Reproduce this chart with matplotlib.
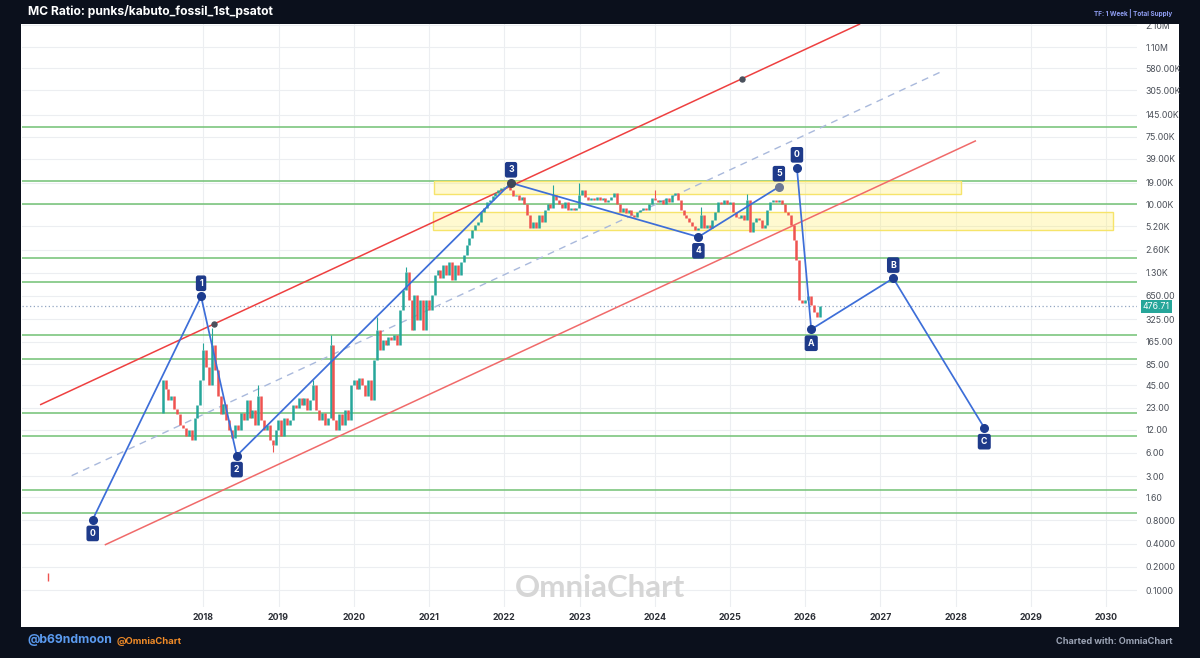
import matplotlib
matplotlib.use("Agg")
import matplotlib.pyplot as plt
from matplotlib.patches import Rectangle
from matplotlib.ticker import FixedLocator, NullLocator, FixedFormatter

plt.rcParams['font.family'] = ['Inter', 'DejaVu Sans']

# ---------------- data ----------------
candle_start = 2017.46          # decimal year of first candle
candle_step = 2 / 52            # two-week candles
first_open = 20
closes = [
    53, 40, 29, 33, 22, 19, 14, 12.6, 10, 12,
    8.8, 17, 25, 53, 130, 78, 45, 150, 71, 33,
    19, 26, 16, 12, 9.4, 14, 12, 20, 16, 29,
    17, 21.6, 14, 33, 16, 12, 14, 8.8, 7.6, 12,
    16, 10, 17, 14, 16, 25, 23, 31, 25, 31,
    21.6, 29, 45, 21.6, 16, 20, 14, 17, 150, 16,
    12, 19, 14, 21.6, 16, 45, 53, 40, 56, 45,
    33, 53, 29, 96, 235, 130, 175, 150, 190, 175,
    200, 150, 430, 780, 1330, 580, 235, 670, 318, 580,
    235, 580, 430, 670, 1200, 1415, 1100, 1650, 1200, 1800,
    1050, 1650, 1200, 1800, 2200, 2950, 3650, 4670, 5450, 5950,
    8000, 9000, 10700, 11500, 12800, 14000, 15500, 16500, 17000, 17500,
    15500, 12800, 13200, 11500, 12500, 10000, 7300, 4960, 5950, 4960,
    7300, 5950, 8500, 10000, 9000, 13200, 11500, 10000, 9000, 10900,
    8500, 9000, 8500, 9000, 13200, 15500, 12500, 11500, 12000, 11500,
    12500, 11500, 12000, 10700, 11500, 12500, 14000, 10000, 8000, 9000,
    7700, 8500, 7300, 6900, 8000, 8500, 9000, 8500, 10000, 12000,
    11500, 10700, 11500, 10000, 12000, 10900, 13200, 14000, 11500, 8500,
    7300, 6600, 5950, 5300, 4670, 4960, 7300, 4960, 5450, 4960,
    6300, 8000, 10700, 10000, 11500, 10000, 10900, 8000, 6900, 6600,
    7300, 6300, 11500, 4400, 5950, 6600, 6300, 4960, 5450, 8500,
    10900, 11500, 10700, 11500, 10000, 8000, 7300, 5450, 3500, 1900,
    580, 528, 580, 650, 500, 400, 348, 476.71,
]
wick_idx = [14, 17, 33, 38, 52, 58, 74, 84, 135, 144, 170, 186, 202]
wick_val = [160, 250, 45, 6.1, 53, 200, 350, 1550, 17900, 19000, 15500, 9300, 13500]

stray_t, stray_lo, stray_hi = 2015.94, 0.131, 0.164
last_price = 476.71

green_levels = [100000, 20000, 10000, 2000, 1000, 200, 100, 20, 10, 2, 1]

zone_x0 = [2021.07, 2021.05]
zone_x1 = [2028.07, 2030.09]
zone_lo = [13600, 4600]
zone_hi = [20000, 7880]

upper_red = ([2015.83, 2026.73], [25.2, 2.2e6])
lower_red = ([2016.69, 2028.27], [0.384, 67200])
mid_dash = ([2016.25, 2027.81], [3.04, 528000])
red_anchor_t = [2018.14, 2025.16]
red_anchor_v = [282, 424000]

wave1_t = [2016.53, 2017.97, 2018.445, 2022.09, 2024.58, 2025.65]
wave1_v = [0.82, 641, 5.52, 19000, 3790, 16900]
wave1_lbl = ['0', '1', '2', '3', '4', '5']
wave1_pos = ['below', 'above', 'below', 'above', 'below', 'above']

wave2_t = [2025.89, 2026.08, 2027.17, 2028.38]
wave2_v = [29700, 240, 1104, 12.7]
wave2_lbl = ['0', 'A', 'B', 'C']
wave2_pos = ['above', 'below', 'above', 'below']

ytick_vals = [2.1e6, 1.1e6, 580e3, 305e3, 145e3, 75e3, 39e3, 19e3, 10e3, 5.2e3,
              2.6e3, 1.3e3, 650, 325, 165, 85, 45, 23, 12, 6, 3, 1.6, 0.8, 0.4, 0.2, 0.1]
ytick_lbls = ['2.10M', '1.10M', '580.00K', '305.00K', '145.00K', '75.00K', '39.00K',
              '19.00K', '10.00K', '5.20K', '2.60K', '1.30K', '650.00', '325.00',
              '165.00', '85.00', '45.00', '23.00', '12.00', '6.00', '3.00', '1.60',
              '0.8000', '0.4000', '0.2000', '0.1000']
year_ticks = list(range(2018, 2031))

# ---------------- figure ----------------
W, H = 1200, 658
fig = plt.figure(figsize=(12, 6.58), dpi=100)
fig.patch.set_facecolor('#0b101c')
fig.patches.append(Rectangle((21 / W, 1 - 627 / H), (1179 - 21) / W, (627 - 24) / H,
                             transform=fig.transFigure, facecolor='white',
                             edgecolor='none', zorder=-1))
# header band covering anything above the panel
fig.patches.append(Rectangle((0, 1 - 24 / H), 1, 24 / H, transform=fig.transFigure,
                             facecolor='#0b101c', edgecolor='none', zorder=5))

ax = fig.add_axes([22 / W, 1 - 607 / H, (1137 - 22) / W, (607 - 24) / H])
ax.set_facecolor('none')
ax.set_yscale('log')
ax.set_xlim(2015.59, 2030.41)
ax.set_ylim(0.0602, 2.19e6)
for s in ax.spines.values():
    s.set_visible(False)

ax.yaxis.tick_right()
ax.yaxis.set_major_locator(FixedLocator(ytick_vals))
ax.yaxis.set_major_formatter(FixedFormatter(ytick_lbls))
ax.yaxis.set_minor_locator(NullLocator())
ax.xaxis.set_major_locator(FixedLocator(year_ticks))
ax.xaxis.set_major_formatter(FixedFormatter([str(y) for y in year_ticks]))
ax.xaxis.set_minor_locator(NullLocator())
ax.tick_params(axis='y', length=0, pad=6, labelsize=6.3, labelcolor='#4a4f58')
ax.tick_params(axis='x', length=0, pad=4, labelsize=6.4, labelcolor='#2c2f36')
for lab in ax.get_xticklabels():
    lab.set_fontweight('bold')
ax.grid(True, color='#eceef1', lw=0.8, zorder=0)
ax.set_axisbelow(True)

# watermark
ax.text((600 - 22) / 1115, (607 - 588) / 583, 'OmniaChart', transform=ax.transAxes,
        ha='center', va='center', fontsize=22.5, fontweight='bold', color='#d6d6d6',
        family=['Lato', 'DejaVu Sans'], zorder=1)

# green horizontal levels
for v in green_levels:
    ax.axhline(v, color='#72c174', lw=1.1, zorder=2)

# yellow zones
for x0, x1, lo, hi in zip(zone_x0, zone_x1, zone_lo, zone_hi):
    ax.add_patch(Rectangle((x0, lo), x1 - x0, hi - lo, facecolor=(1.0, 0.93, 0.35, 0.28),
                           edgecolor='#f6e46a', lw=1.0, zorder=2))

# current price dotted line
ax.axhline(last_price, color='#93a6c2', lw=0.9, ls=(0, (1, 2)), zorder=2)

# channel
ax.plot(*upper_red, color='#ee4040', lw=1.1, zorder=3, solid_capstyle='butt')
ax.plot(*lower_red, color='#f06a6a', lw=1.1, zorder=3, solid_capstyle='butt')
ax.plot(*mid_dash, color='#a9b9dc', lw=1.0, ls=(0, (5, 4)), zorder=3)
ax.plot(red_anchor_t, red_anchor_v, 'o', color='#4a505c', ms=3.6, zorder=6)

# candles
opens = [first_open] + closes[:-1]
times = [candle_start + i * candle_step for i in range(len(closes))]
up_c, dn_c = '#26a69a', '#ef5350'
for t, o, c in zip(times, opens, closes):
    col = up_c if c >= o else dn_c
    ax.vlines(t, min(o, c), max(o, c), color=col, lw=1.8, zorder=4)
for i, w in zip(wick_idx, wick_val):
    o, c = opens[i], closes[i]
    col = up_c if c >= o else dn_c
    if w > max(o, c):
        ax.vlines(times[i], max(o, c), w, color=col, lw=0.8, zorder=4)
    else:
        ax.vlines(times[i], w, min(o, c), color=col, lw=0.8, zorder=4)
ax.vlines(stray_t, stray_lo, stray_hi, color=dn_c, lw=1.0, zorder=4)

# waves
wave_col = '#3d6ed8'
dot_col = '#1d3c8f'


def draw_wave(ts, vs, lbls, poss, dot_colors):
    ax.plot(ts, vs, color=wave_col, lw=1.25, zorder=5)
    for t, v, l, p, dc in zip(ts, vs, lbls, poss, dot_colors):
        ax.plot(t, v, 'o', color=dc, ms=5.5, zorder=6)
        dy = 9.5 if p == 'above' else -10
        ax.annotate(l, (t, v), xytext=(0, dy), textcoords='offset points', ha='center',
                    va='center', fontsize=6.3, fontweight='bold', color='white', zorder=7,
                    bbox=dict(boxstyle='round,pad=0.38,rounding_size=0.25', fc='#1e3a8a',
                              ec='none'))


draw_wave(wave1_t, wave1_v, wave1_lbl, wave1_pos,
          [dot_col, dot_col, dot_col, '#3e4858', dot_col, '#6c7896'])
draw_wave(wave2_t, wave2_v, wave2_lbl, wave2_pos, [dot_col] * 4)

# last price tag
ax.annotate(f'{last_price:.2f}', xy=(1.0, last_price), xycoords=ax.get_yaxis_transform(),
            xytext=(4.2, 0), textcoords='offset points', ha='left', va='center',
            fontsize=6.3, color='white', annotation_clip=False, zorder=8,
            bbox=dict(boxstyle='square,pad=0.22', fc='#26a69a', ec='none'))

# header / footer texts
fig.text(28 / W, 1 - 12 / H, 'MC Ratio: punks/kabuto_fossil_1st_psatot', ha='left',
         va='center', color='white', fontsize=8.7, fontweight='bold', zorder=6)
fig.text(1172 / W, 1 - 14 / H, 'TF: 1 Week | Total Supply', ha='right', va='center',
         color='#8f9df2', fontsize=4.6, fontweight='bold', zorder=6)
fig.text(28 / W, 1 - 640 / H, '@b69ndmoon', ha='left', va='center', color='#5b9bf0',
         fontsize=8.8, fontweight='bold')
fig.text(117 / W, 1 - 641 / H, '@OmniaChart', ha='left', va='center', color='#f28c28',
         fontsize=6.8, fontweight='bold')
fig.text(1172 / W, 1 - 641 / H, 'Charted with: OmniaChart', ha='right', va='center',
         color='#9ba3b4', fontsize=6.6, fontweight='bold')

fig.savefig('out.png', dpi=100, facecolor=fig.get_facecolor())
